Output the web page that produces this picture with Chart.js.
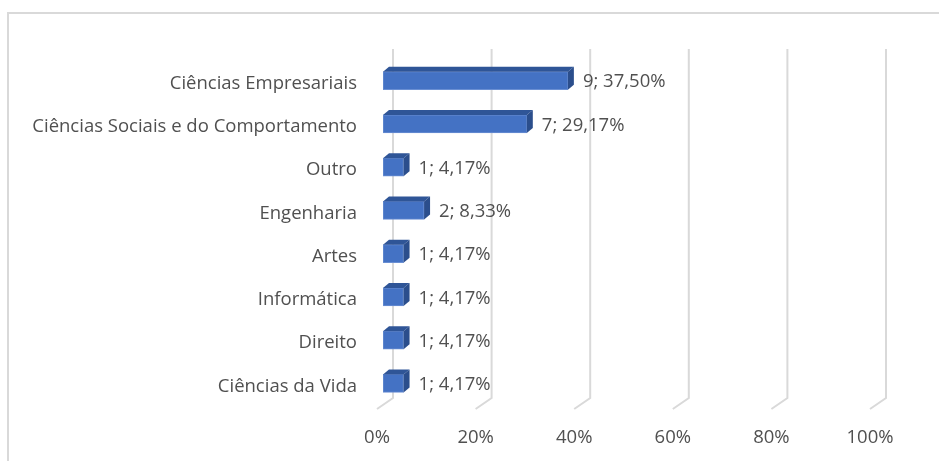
<!DOCTYPE html>
<html>
<head>
<meta charset="utf-8">
<script src="https://cdn.jsdelivr.net/npm/chart.js@4.4.1/dist/chart.umd.min.js"></script>
<style>
  html, body { margin: 0; padding: 0; background: #fff; overflow: hidden; }
  #wrap { width: 939px; height: 461px; position: relative; }
</style>
</head>
<body>
<div id="wrap"><canvas id="areas_chart" width="939" height="461"></canvas></div>
<script>
var areas = ['Ciências Empresariais', 'Ciências Sociais e do Comportamento', 'Outro', 'Engenharia', 'Artes', 'Informática', 'Direito', 'Ciências da Vida'];
var counts = [9, 7, 1, 2, 1, 1, 1, 1];
var percents = [37.50, 29.17, 4.17, 8.33, 4.17, 4.17, 4.17, 4.17];
var tickValues = [0, 20, 40, 60, 80, 100];

var gridColor = '#d9d9d9';
var textColor = '#505050';
var fontFamily = '"Open Sans", sans-serif';
var fontSize = 18.5;

// 3d look: back wall grid, bar top + side faces, value labels
const fake3d = {
  id: 'fake3d',
  beforeDraw(chart) {
    const c = chart.ctx;
    c.save();
    c.strokeStyle = gridColor;
    c.lineWidth = 2;
    c.strokeRect(8, 13, 1200, 1200);
    c.restore();
  },
  beforeDatasetsDraw(chart) {
    const c = chart.ctx;
    const xs = chart.scales.x;
    c.save();
    c.strokeStyle = gridColor;
    c.lineWidth = 2;
    tickValues.forEach(function(v) {
      const p = xs.getPixelForValue(v);
      c.beginPath();
      c.moveTo(p + 10, 49);
      c.lineTo(p + 10, 398);
      c.lineTo(p - 6, 409);
      c.stroke();
    });
    c.restore();
  },
  afterDatasetsDraw(chart) {
    const c = chart.ctx;
    const meta = chart.getDatasetMeta(0);
    const dx = 6, dy = 5;
    c.save();
    meta.data.forEach(function(bar, i) {
      const x0 = bar.base, x1 = bar.x;
      const top = bar.y - bar.height / 2, bot = bar.y + bar.height / 2;
      // top face
      c.fillStyle = '#2f5597';
      c.beginPath();
      c.moveTo(x0, top);
      c.lineTo(x0 + dx, top - dy);
      c.lineTo(x1 + dx, top - dy);
      c.lineTo(x1, top);
      c.closePath();
      c.fill();
      // side face
      c.fillStyle = '#2b4e8c';
      c.beginPath();
      c.moveTo(x1, top);
      c.lineTo(x1 + dx, top - dy);
      c.lineTo(x1 + dx, bot - dy);
      c.lineTo(x1, bot);
      c.closePath();
      c.fill();
      // value label
      c.fillStyle = textColor;
      c.font = fontSize + 'px ' + fontFamily;
      c.textAlign = 'left';
      c.textBaseline = 'middle';
      const txt = counts[i] + '; ' + percents[i].toFixed(2).replace('.', ',') + '%';
      c.fillText(txt, x1 + dx + 9, bar.y + 1.5);
    });
    c.restore();
  }
};

const ctx_areas = document.getElementById('areas_chart').getContext('2d');
const myChart_areas = new Chart(ctx_areas, {
  type: 'bar',
  data: {
    labels: areas,
    datasets: [{
      data: percents,
      backgroundColor: '#4472c4',
      borderColor: '#6a8fd3',
      borderWidth: 1,
      borderSkipped: false,
      barThickness: 18
    }]
  },
  options: {
    indexAxis: 'y',
    responsive: false,
    animation: false,
    layout: { padding: { left: 0, top: 59, right: 63, bottom: 0 } },
    plugins: {
      legend: { display: false },
      tooltip: { enabled: false }
    },
    scales: {
      x: {
        min: 0,
        max: 100,
        afterFit: function(s) { s.height = 56; },
        afterBuildTicks: function(s) { s.ticks = tickValues.map(function(v) { return { value: v }; }); },
        grid: { display: false, drawTicks: false },
        border: { display: false },
        ticks: {
          padding: 22,
          labelOffset: -6,
          color: textColor,
          font: { family: fontFamily, size: fontSize },
          callback: function(v) { return v + '%'; }
        }
      },
      y: {
        afterFit: function(s) { s.width = 383; },
        grid: { display: false, drawTicks: false },
        border: { display: false },
        ticks: {
          padding: 26,
          labelOffset: 3,
          color: textColor,
          font: { family: fontFamily, size: fontSize }
        }
      }
    }
  },
  plugins: [fake3d]
});
</script>
</body>
</html>
